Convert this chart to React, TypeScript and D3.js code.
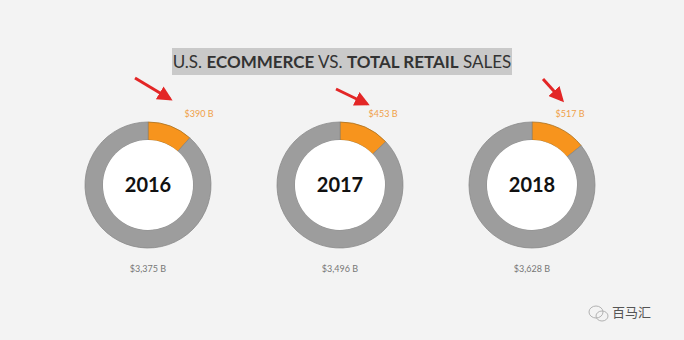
import React from "react";
import * as d3 from "d3";

const years = ["2016", "2017", "2018"];
const ecommerce = [390, 453, 517];
const totalRetail = [3375, 3496, 3628];
const ecomLabels = ["$390 B", "$453 B", "$517 B"];
const totalLabels = ["$3,375 B", "$3,496 B", "$3,628 B"];

const W = 684;
const H = 340;

export default function App() {
  const x = d3.scalePoint<string>().domain(years).range([148, 532]);
  const cy = 185;
  const arc = d3.arc<d3.PieArcDatum<number>>().innerRadius(45).outerRadius(63);
  const pie = d3.pie<number>().sort(null).value((d) => d);
  const font = "Lato, 'Open Sans', sans-serif";
  const labelDx = [51, 43, 38];
  const arrows = [
    { x1: 135, y1: 78, x2: 170, y2: 99 },
    { x1: 336, y1: 89, x2: 367, y2: 104 },
    { x1: 543, y1: 79, x2: 562, y2: 100 },
  ];
  return (
    <svg width={W} height={H} style={{ position: "absolute", left: 0, top: 0, background: "#f3f3f3" }}>
      <rect x={0} y={0} width={W} height={H} fill="#f3f3f3" />
      <defs>
        <marker id="ah" viewBox="0 0 10 10" refX="8" refY="5" markerWidth="5" markerHeight="5" orient="auto">
          <path d="M0,0 L10,5 L0,10 z" fill="#e32626" />
        </marker>
      </defs>
      <rect x={172} y={48} width={340} height={27} fill="#c9c9c9" />
      <text x={342} y={68} textAnchor="middle" fontFamily={font} fontSize={17} fill="#333">
        <tspan>U.S. </tspan>
        <tspan fontWeight="bold">ECOMMERCE</tspan>
        <tspan> VS. </tspan>
        <tspan fontWeight="bold">TOTAL RETAIL</tspan>
        <tspan> SALES</tspan>
      </text>
      {arrows.map((a, i) => (
        <line key={i} x1={a.x1} y1={a.y1} x2={a.x2} y2={a.y2} stroke="#e32626" strokeWidth={3} markerEnd="url(#ah)" />
      ))}
      {years.map((y, i) => {
        const cx = x(y)!;
        const arcs = pie([ecommerce[i], totalRetail[i] - ecommerce[i]]);
        return (
          <g key={y}>
            <g transform={`translate(${cx},${cy})`}>
              {arcs.map((a, j) => (
                <path key={j} d={arc(a)!} fill={j === 0 ? "#f7941d" : "#9d9d9d"} stroke={j === 0 ? "#a8701f" : "#8a8a8a"} strokeWidth={0.8} />
              ))}
              <circle r={45} fill="#ffffff" />
              <text y={7} textAnchor="middle" fontFamily={font} fontWeight="bold" fontSize={20} fill="#111">{y}</text>
            </g>
            <text x={cx + labelDx[i]} y={117} textAnchor="middle" fontFamily={font} fontSize={9} fill="#f0a048">{ecomLabels[i]}</text>
            <text x={cx} y={272} textAnchor="middle" fontFamily={font} fontSize={9} fill="#777">{totalLabels[i]}</text>
          </g>
        );
      })}
      <g transform="translate(588,312)" opacity={0.6}>
        <ellipse cx={8} cy={0} rx={7} ry={6} fill="none" stroke="#888" strokeWidth={1} />
        <ellipse cx={14} cy={4} rx={6} ry={5} fill="none" stroke="#888" strokeWidth={1} />
      </g>
      <text x={612} y={317} fontFamily="'Noto Sans CJK SC', sans-serif" fontSize={13} fill="#555">百马汇</text>
    </svg>
  );
}
